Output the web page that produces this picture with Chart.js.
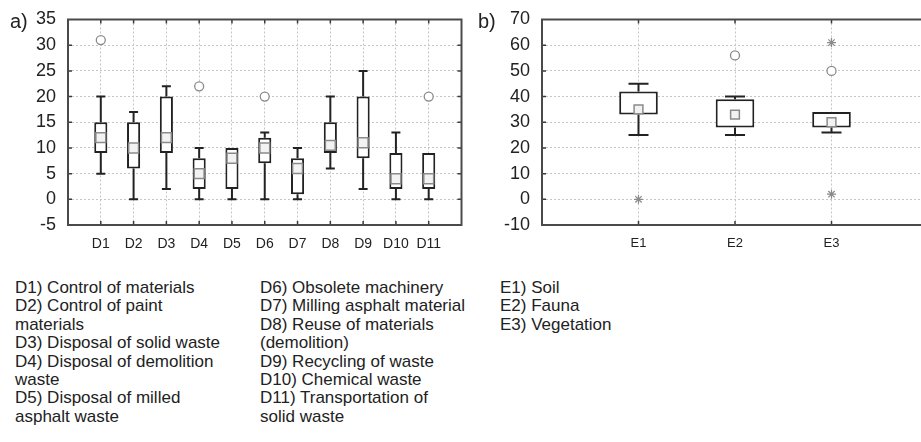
<!DOCTYPE html>
<html><head><meta charset="utf-8">
<script src="https://cdn.jsdelivr.net/npm/chart.js@4"></script>
<style>
html,body{margin:0;padding:0;width:921px;height:442px;overflow:hidden;background:#fff;font-family:"Liberation Sans",Arial,sans-serif;color:#222;}
body{position:relative;}
.wrap{position:absolute;top:0;height:262px;}
#wa{left:0;width:470px;}
#wb{left:470px;width:470px;}
.lab{position:absolute;font-size:20px;line-height:22px;top:10px;}
.leg{position:absolute;top:279px;font-size:17px;line-height:18.4px;white-space:nowrap;}
</style></head>
<body>
<div class="wrap" id="wa"><canvas id="ca" width="470" height="262"></canvas></div>
<div class="wrap" id="wb"><canvas id="cb" width="470" height="262"></canvas></div>
<div class="lab" style="left:10px">a)</div>
<div class="lab" style="left:478px">b)</div>
<div class="leg" style="left:15px">D1) Control of materials<br>D2) Control of paint<br>materials<br>D3) Disposal of solid waste<br>D4) Disposal of demolition<br>waste<br>D5) Disposal of milled<br>asphalt waste</div>
<div class="leg" style="left:260px">D6) Obsolete machinery<br>D7) Milling asphalt material<br>D8) Reuse of materials<br>(demolition)<br>D9) Recycling of waste<br>D10) Chemical waste<br>D11) Transportation of<br>solid waste</div>
<div class="leg" style="left:500px">E1) Soil<br>E2) Fauna<br>E3) Vegetation</div>
<script>
// ---- Data: panel a) ----
const catsA = ['D1','D2','D3','D4','D5','D6','D7','D8','D9','D10','D11'];
const minA  = [5, 0, 2, 0, 0, 0, 0, 6, 2, 0, 0];
const q1A   = [9, 6, 9, 2, 2, 7, 1, 9, 8, 2, 2];
const medA  = [12, 10, 12, 5, 8, 10, 6, 10.5, 11, 4, 4];
const q3A   = [15, 15, 20, 8, 10, 12, 8, 15, 20, 9, 9];
const maxA  = [20, 17, 22, 10, 10, 13, 10, 20, 25, 13, 9];
const outlierA = [31, null, null, 22, null, 20, null, null, null, null, 20];
const extremeA = [null, null, null, null, null, null, null, null, null, null, null];
const yTicksA = [-5, 0, 5, 10, 15, 20, 25, 30, 35];

// ---- Data: panel b) ----
const catsB = ['E1','E2','E3'];
const minB  = [25, 25, 26];
const q1B   = [33, 28, 28];
const medB  = [35, 33, 30];
const q3B   = [42, 39, 34];
const maxB  = [45, 40, 34];
const outlierB = [null, 56, 50];
const extremeHighB = [null, null, 61];
const extremeLowB  = [0, null, 2];
const yTicksB = [-10, 0, 10, 20, 30, 40, 50, 60, 70];

const INK = '#222';
const GRAYM = '#8a8a8a';

const framePlugin = {
  id: 'frame',
  afterDraw(chart) {
    const {ctx, chartArea: a, scales: {x, y}} = chart;
    ctx.save();
    ctx.strokeStyle = '#3a3a3a';
    ctx.lineWidth = 1.5;
    ctx.beginPath();
    x.ticks.forEach(t => {
      const px = x.getPixelForValue(t.value);
      if (px <= a.left + 1 || px >= a.right - 1) return;
      ctx.moveTo(px, a.top); ctx.lineTo(px, a.top + 4);
      ctx.moveTo(px, a.bottom); ctx.lineTo(px, a.bottom - 4);
    });
    y.ticks.forEach(t => {
      const py = y.getPixelForValue(t.value);
      if (py <= a.top + 1 || py >= a.bottom - 1) return;
      ctx.moveTo(a.left, py); ctx.lineTo(a.left + 4, py);
      ctx.moveTo(a.right, py); ctx.lineTo(a.right - 4, py);
    });
    ctx.stroke();
    ctx.strokeStyle = '#4a4a4a';
    ctx.lineWidth = 2;
    ctx.strokeRect(a.left, a.top, a.right - a.left, a.bottom - a.top);
    ctx.restore();
  }
};

function makeBox(canvasId, cats, mins, q1s, meds, q3s, maxs, outs, extremesList, yTickVals, cfg) {
  const whisk = [], caps = [], boxes = [], medPts = [], outPts = [], extPts = [];
  cats.forEach((c, i) => {
    const x = i + 1;
    if (maxs[i] > q3s[i]) { whisk.push({x, y: q3s[i]}, {x, y: maxs[i]}, {x, y: null}); caps.push({x, y: maxs[i]}); }
    if (mins[i] < q1s[i]) { whisk.push({x, y: q1s[i]}, {x, y: mins[i]}, {x, y: null}); caps.push({x, y: mins[i]}); }
    boxes.push({x, y: [q1s[i], q3s[i]]});
    medPts.push({x, y: meds[i]});
    if (outs[i] !== null) outPts.push({x, y: outs[i]});
    extremesList.forEach(arr => { if (arr[i] !== null) extPts.push({x, y: arr[i]}); });
  });
  const n = cats.length;
  const xTickVals = [];
  for (let k = 0; k <= n + 1; k++) xTickVals.push(k);
  return new Chart(document.getElementById(canvasId), {
    type: 'bar',
    data: {
      datasets: [
        {type: 'line', data: whisk, borderColor: INK, borderWidth: 2, pointRadius: 0, spanGaps: false, order: 5},
        {type: 'scatter', data: caps, pointStyle: 'line', pointRadius: cfg.capR, borderColor: INK, pointBorderWidth: 2, order: 4},
        {type: 'bar', data: boxes, backgroundColor: '#fff', borderColor: INK, borderWidth: 2, borderSkipped: false,
         barPercentage: 0.4, categoryPercentage: 1, order: 3},
        {type: 'scatter', data: medPts, pointStyle: 'rect', pointRadius: cfg.medR, backgroundColor: '#f2f2f2',
         borderColor: GRAYM, pointBorderWidth: 1.5, order: 2},
        {type: 'scatter', data: outPts, pointStyle: 'circle', pointRadius: cfg.outR, backgroundColor: '#fff',
         borderColor: GRAYM, pointBorderWidth: 1.3, order: 1},
        {type: 'scatter', data: extPts, pointStyle: 'star', pointRadius: cfg.extR, backgroundColor: '#fff',
         borderColor: GRAYM, pointBorderWidth: 1.2, order: 0}
      ]
    },
    options: {
      responsive: false,
      animation: false,
      events: [],
      layout: {padding: {top: 19.5, right: cfg.padRight, left: 0, bottom: 0}},
      plugins: {legend: {display: false}, tooltip: {enabled: false}},
      scales: {
        x: {
          type: 'linear', min: 0, max: n + 1, offset: false,
          afterBuildTicks: s => { s.ticks = xTickVals.map(v => ({value: v})); },
          afterFit: s => { s.height = 37; s.paddingLeft = 0; s.paddingRight = 0; },
          ticks: {autoSkip: false, maxRotation: 0, padding: 11, color: INK,
                  font: {family: 'Liberation Sans', size: cfg.xFont},
                  callback: v => (Number.isInteger(v) && v >= 1 && v <= n) ? cats[v - 1] : ''},
          grid: {color: '#c6c6c6', lineWidth: 1, drawTicks: false, offset: false},
          border: {display: false, dash: [2, 2]}
        },
        y: {
          type: 'linear', min: yTickVals[0], max: yTickVals[yTickVals.length - 1],
          afterBuildTicks: s => { s.ticks = yTickVals.map(v => ({value: v})); },
          afterFit: s => { s.width = cfg.yWidth; s.paddingTop = 0; s.paddingBottom = 0; },
          ticks: {padding: 12, color: INK, font: {family: 'Liberation Sans', size: 18}},
          grid: {color: '#c6c6c6', lineWidth: 1, drawTicks: false, offset: false},
          border: {display: false, dash: [2, 2]}
        }
      }
    },
    plugins: [framePlugin]
  });
}

makeBox('ca', catsA, minA, q1A, medA, q3A, maxA, outlierA, [extremeA], yTicksA,
  {capR: 4.5, medR: 7, outR: 4.5, extR: 4.5, xFont: 14, yWidth: 68, padRight: 8});
makeBox('cb', catsB, minB, q1B, medB, q3B, maxB, outlierB, [extremeHighB, extremeLowB], yTicksB,
  {capR: 10, medR: 6.2, outR: 4.5, extR: 4.5, xFont: 13, yWidth: 72, padRight: 10});
</script>
</body></html>
